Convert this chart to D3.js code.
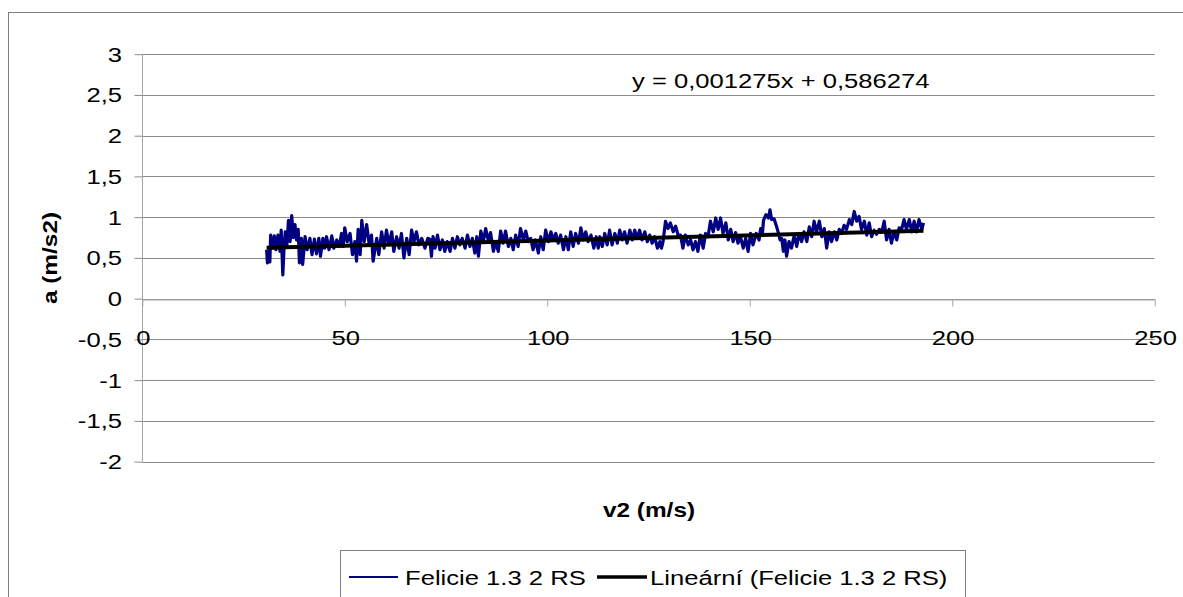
<!DOCTYPE html>
<html>
<head>
<meta charset="utf-8">
<script src="https://cdn.jsdelivr.net/npm/d3@7"></script>
<style>
  body { margin: 0; background: #fff; }
  svg { display: block; font-family: "Liberation Sans", Arial, sans-serif; }
</style>
</head>
<body>
<div id="chart"></div>
<script>
// a vs v2 chart, Felicie 1.3 2 RS

const speedV = [
  30.7, 30.9, 31.2, 31.5, 31.7, 32.2, 32.6, 33.0, 33.5, 34.0,
  34.3, 34.7, 35.0, 35.3, 35.7, 36.1, 36.5, 36.9, 37.3, 37.7,
  38.1, 38.5, 38.8, 39.3, 39.6, 40.2, 40.7, 41.4, 41.9, 42.5,
  43.0, 43.6, 44.0, 44.6, 45.0, 45.5, 46.1, 46.8, 47.3, 48.0,
  48.6, 49.2, 49.6, 50.0, 50.6, 51.3, 51.9, 52.5, 52.9, 53.3,
  53.8, 54.2, 54.8, 55.4, 56.0, 56.6, 57.0, 57.9, 58.4, 59.1,
  59.7, 60.3, 60.9, 61.6, 62.1, 62.8, 63.4, 64.0, 64.6, 65.3,
  65.9, 66.5, 67.1, 67.7, 68.3, 69.0, 69.8, 70.5, 71.0, 71.4,
  71.8, 72.3, 72.9, 73.5, 74.1, 74.7, 75.3, 76.0, 76.6, 77.2,
  77.8, 78.4, 79.0, 79.7, 80.3, 80.9, 81.5, 82.1, 82.6, 83.0,
  83.6, 84.2, 84.8, 85.4, 86.0, 86.7, 87.3, 87.9, 88.5, 89.1,
  89.7, 90.4, 91.0, 91.6, 92.2, 92.8, 93.4, 94.1, 94.7, 95.3,
  95.9, 96.5, 97.1, 97.8, 98.4, 99.0, 99.6, 100.3, 100.9, 101.5,
  102.1, 102.7, 103.3, 104.0, 104.6, 105.2, 105.8, 106.4, 107.0, 107.7,
  108.3, 108.9, 109.5, 110.1, 110.8, 111.5, 112.1, 112.6, 113.0, 113.6,
  114.2, 114.8, 115.4, 116.0, 116.7, 117.3, 117.9, 118.5, 119.1, 119.7,
  120.4, 121.0, 121.6, 122.2, 122.8, 123.4, 124.1, 124.7, 125.3, 125.9,
  126.5, 127.2, 127.8, 128.2, 128.6, 129.2, 129.8, 130.4, 131.1, 131.7,
  132.3, 132.9, 133.5, 134.1, 134.8, 135.4, 136.0, 136.6, 137.2, 137.8,
  138.5, 139.1, 139.7, 140.3, 141.0, 141.6, 142.2, 142.8, 143.4, 144.1,
  144.7, 145.3, 145.9, 146.5, 147.1, 147.7, 148.4, 149.0, 149.6, 150.2,
  150.8, 151.6, 152.3, 152.7, 153.1, 153.4, 154.0, 154.6, 155.0, 155.4,
  156.0, 156.6, 157.0, 157.5, 157.9, 158.3, 158.7, 159.1, 159.7, 160.3,
  161.0, 161.6, 162.2, 162.8, 163.4, 164.1, 164.7, 165.3, 165.9, 166.5,
  167.2, 167.8, 168.4, 169.0, 169.6, 170.2, 170.9, 171.5, 172.1, 172.7,
  173.3, 173.9, 174.6, 175.2, 175.8, 176.4, 177.0, 177.6, 178.3, 178.9,
  179.5, 180.1, 180.7, 181.3, 182.0, 182.6, 183.2, 183.8, 184.4, 185.0,
  185.6, 186.3, 186.9, 187.5, 188.1, 188.7, 189.4, 190.0, 190.6, 191.2,
  191.8, 192.5, 192.9
];
const accelA = [
  0.60, 0.44, 0.58, 0.45, 0.78, 0.62, 0.77, 0.60, 0.78, 0.58,
  0.84, 0.29, 0.62, 0.82, 0.66, 0.96, 0.70, 1.02, 0.75, 0.91,
  0.72, 0.85, 0.44, 0.74, 0.42, 0.76, 0.60, 0.74, 0.54, 0.73,
  0.55, 0.74, 0.52, 0.74, 0.62, 0.76, 0.60, 0.77, 0.62, 0.72,
  0.64, 0.80, 0.64, 0.87, 0.70, 0.80, 0.54, 0.70, 0.46, 0.85,
  0.54, 0.96, 0.70, 0.91, 0.68, 0.78, 0.46, 0.74, 0.54, 0.82,
  0.62, 0.84, 0.66, 0.82, 0.58, 0.76, 0.62, 0.80, 0.50, 0.74,
  0.54, 0.84, 0.70, 0.82, 0.66, 0.74, 0.62, 0.74, 0.73, 0.52,
  0.76, 0.62, 0.78, 0.60, 0.72, 0.58, 0.70, 0.58, 0.74, 0.62,
  0.76, 0.66, 0.74, 0.62, 0.78, 0.64, 0.74, 0.56, 0.76, 0.52,
  0.83, 0.70, 0.86, 0.72, 0.81, 0.58, 0.70, 0.58, 0.83, 0.68,
  0.83, 0.64, 0.74, 0.60, 0.78, 0.64, 0.86, 0.72, 0.83, 0.70,
  0.74, 0.60, 0.72, 0.56, 0.76, 0.60, 0.84, 0.70, 0.82, 0.72,
  0.80, 0.68, 0.78, 0.60, 0.76, 0.60, 0.82, 0.64, 0.80, 0.68,
  0.87, 0.72, 0.82, 0.70, 0.78, 0.62, 0.76, 0.62, 0.76, 0.64,
  0.80, 0.66, 0.84, 0.66, 0.80, 0.68, 0.84, 0.72, 0.82, 0.68,
  0.84, 0.72, 0.84, 0.74, 0.84, 0.72, 0.82, 0.70, 0.78, 0.68,
  0.76, 0.62, 0.70, 0.62, 0.70, 0.95, 0.86, 0.93, 0.82, 0.89,
  0.78, 0.78, 0.62, 0.78, 0.66, 0.72, 0.60, 0.70, 0.58, 0.78,
  0.62, 0.80, 0.76, 0.95, 0.82, 0.99, 0.85, 0.99, 0.80, 0.93,
  0.72, 0.85, 0.70, 0.81, 0.68, 0.76, 0.62, 0.74, 0.58, 0.80,
  0.66, 0.80, 0.72, 0.86, 0.78, 0.96, 1.03, 0.99, 1.09, 0.97,
  0.98, 0.89, 0.82, 0.72, 0.74, 0.58, 0.72, 0.52, 0.70, 0.62,
  0.78, 0.64, 0.80, 0.70, 0.82, 0.70, 0.88, 0.76, 0.95, 0.82,
  0.95, 0.76, 0.86, 0.62, 0.82, 0.70, 0.82, 0.72, 0.85, 0.80,
  0.90, 0.85, 0.97, 0.91, 1.07, 0.95, 1.01, 0.85, 0.95, 0.78,
  0.93, 0.76, 0.84, 0.79, 0.85, 0.82, 0.95, 0.72, 0.85, 0.68,
  0.82, 0.72, 0.87, 0.85, 0.97, 0.85, 0.97, 0.82, 0.95, 0.82,
  0.97, 0.85, 0.93
];

// linear trend as printed on the chart
const trendSlope = 0.001275;
const trendIntercept = 0.586274;
const trendLabel = "y = 0,001275x + 0,586274";

// axis ticks
const xTicks = [0, 50, 100, 150, 200, 250];
const yTicks = [-2, -1.5, -1, -0.5, 0, 0.5, 1, 1.5, 2, 2.5, 3];

const seriesName = "Felicie 1.3 2 RS";
const trendName = "Lineární (Felicie 1.3 2 RS)";

const width = 1183, height = 597;
const stretch = 1.22;   // text in the original is drawn wider than normal
const fmt = d => String(d).replace(".", ",");

const svg = d3.select("#chart").append("svg")
  .attr("width", width)
  .attr("height", height);

// outer chart border
svg.append("rect")
  .attr("x", 8.5).attr("y", 12.5)
  .attr("width", 1300).attr("height", 700)
  .attr("fill", "#fff")
  .attr("stroke", "#7f7f7f");

const x = d3.scaleLinear().domain([0, 250]).range([142.3, 1154.7]);
const y = d3.scaleLinear().domain([-2, 3]).range([461.6, 54.2]);

function wideText(parent, px, py, str, anchor, size, weight) {
  return parent.append("g")
    .attr("transform", `translate(${px},${py}) scale(${stretch},1)`)
    .append("text")
    .attr("text-anchor", anchor)
    .attr("font-size", size)
    .attr("font-weight", weight || "normal")
    .attr("fill", "#000")
    .text(str);
}

// horizontal gridlines
svg.append("g").selectAll("line")
  .data(yTicks)
  .join("line")
  .attr("x1", x(0)).attr("x2", x(250))
  .attr("y1", d => Math.round(y(d)) + 0.5)
  .attr("y2", d => Math.round(y(d)) + 0.5)
  .attr("stroke", "#8c8c8c")
  .attr("stroke-width", 1);

// y axis
const yAxis = svg.append("g")
  .attr("transform", `translate(${Math.round(x(0)) + 0.5},0)`)
  .call(d3.axisLeft(y).tickValues(yTicks).tickSize(8).tickFormat(""));
yAxis.select(".domain").attr("stroke", "#a6a6a6").attr("d", `M0,${y(3)}V${y(-2)}`);
yAxis.selectAll(".tick line").attr("stroke", "#8c8c8c");

yTicks.forEach(t => {
  wideText(svg, 122, y(t) + 7.5, fmt(t), "end", 21);
});

// x axis sitting on a = 0
const xAxis = svg.append("g")
  .attr("transform", `translate(0,${Math.round(y(0)) + 0.5})`)
  .call(d3.axisBottom(x).tickValues(xTicks).tickSize(7).tickSizeOuter(0).tickFormat(""));
xAxis.select(".domain").attr("stroke", "#a6a6a6");
xAxis.selectAll(".tick line").attr("stroke", "#a6a6a6");

xTicks.forEach(t => {
  wideText(svg, x(t) + 1, 345, fmt(t), "middle", 21);
});

// measured series
const points = speedV.map((v, i) => [v, accelA[i]]);
const line = d3.line().x(d => x(d[0])).y(d => y(d[1]));

svg.append("path")
  .datum(points)
  .attr("d", line)
  .attr("fill", "none")
  .attr("stroke", "#000080")
  .attr("stroke-width", 3.2)
  .attr("stroke-linejoin", "round");

// trend line across the data range
const vExt = d3.extent(speedV);
svg.append("path")
  .datum(vExt.map(v => [v, trendSlope * v + trendIntercept]))
  .attr("d", line)
  .attr("fill", "none")
  .attr("stroke", "#000")
  .attr("stroke-width", 4);

wideText(svg, 632, 88, trendLabel, "start", 21);

// axis titles
wideText(svg, 649, 517, "v2 (m/s)", "middle", 20, "bold");
svg.append("g")
  .attr("transform", `translate(57,258) rotate(-90) scale(${stretch},1)`)
  .append("text")
  .attr("text-anchor", "middle")
  .attr("font-size", 20)
  .attr("font-weight", "bold")
  .text("a (m/s2)");

// legend
const legend = svg.append("g");
legend.append("rect")
  .attr("x", 340.5).attr("y", 550.5)
  .attr("width", 625).attr("height", 60)
  .attr("fill", "#fff")
  .attr("stroke", "#7f7f7f");
legend.append("line")
  .attr("x1", 349).attr("x2", 398).attr("y1", 577).attr("y2", 577)
  .attr("stroke", "#000080").attr("stroke-width", 2);
wideText(legend, 405, 584.5, seriesName, "start", 21);
legend.append("line")
  .attr("x1", 597).attr("x2", 647).attr("y1", 577).attr("y2", 577)
  .attr("stroke", "#000").attr("stroke-width", 3.5);
wideText(legend, 650, 584.5, trendName, "start", 21);
</script>
</body>
</html>
